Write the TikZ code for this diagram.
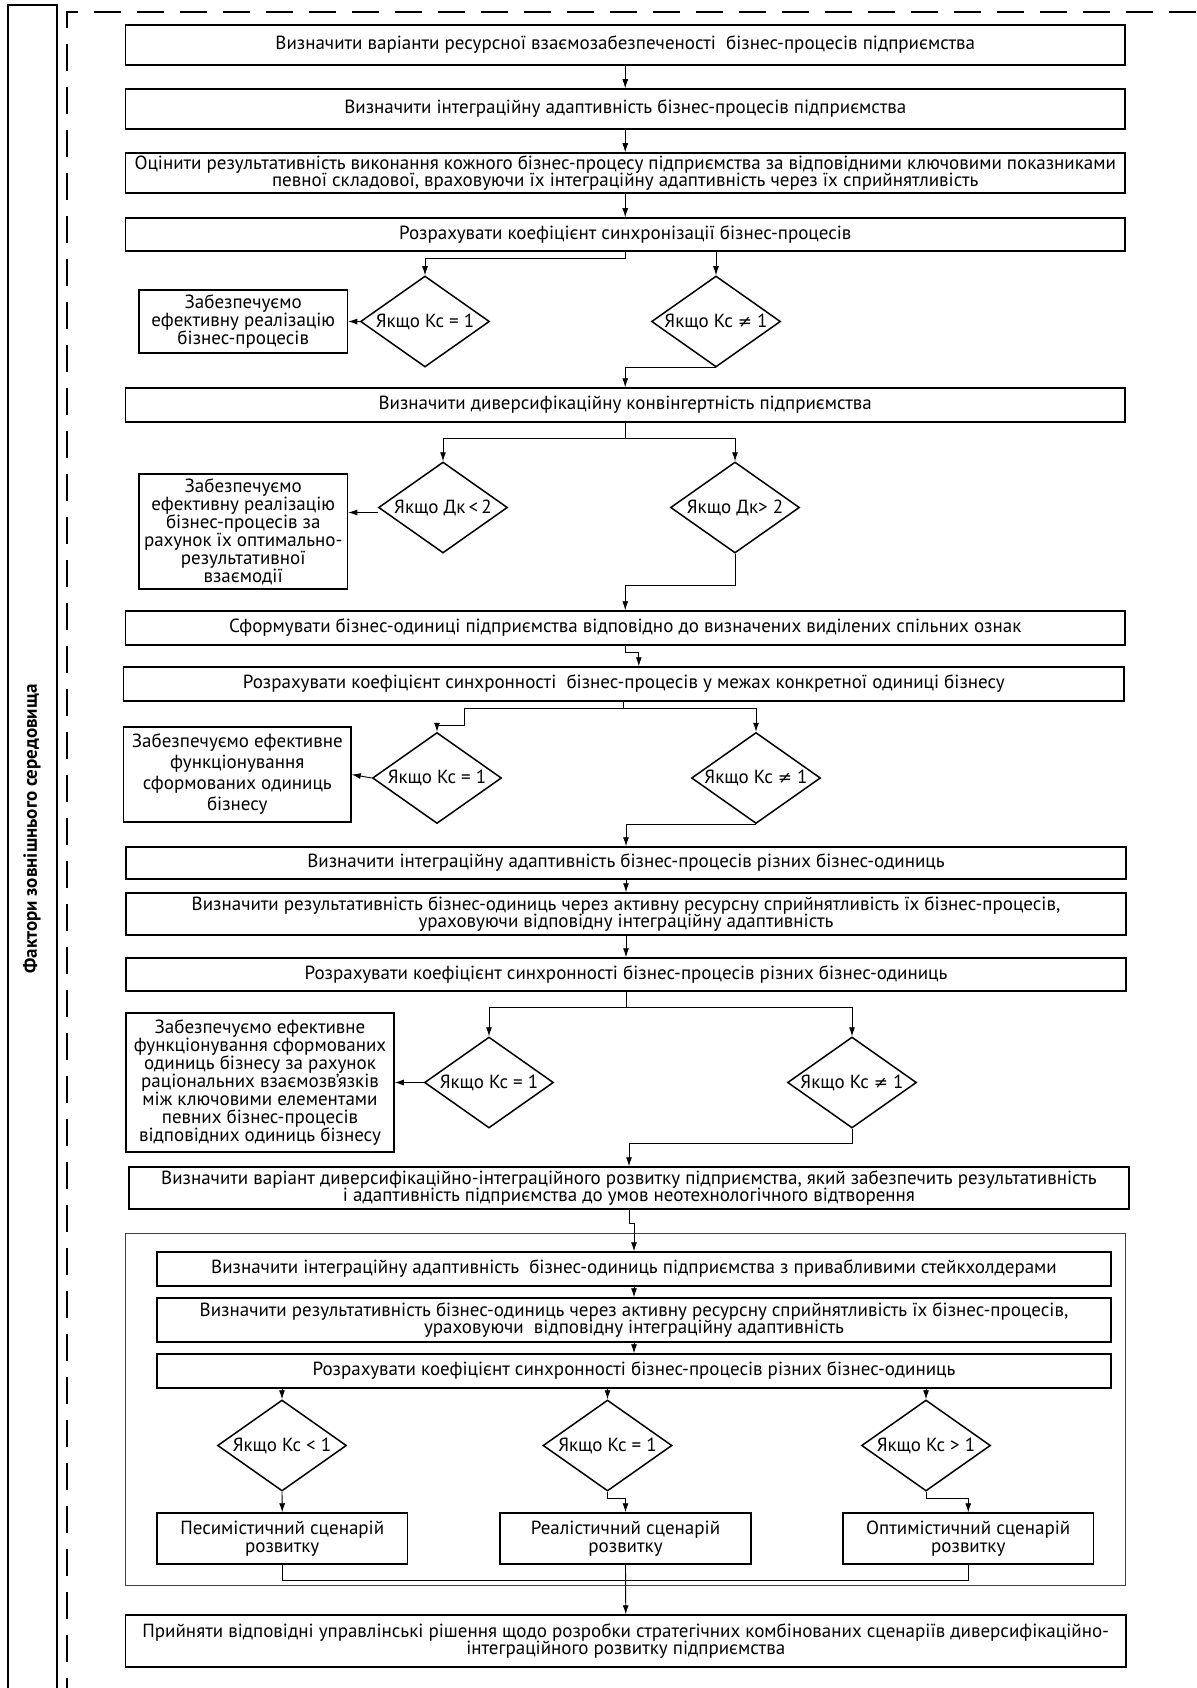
\documentclass[tikz,border=0pt]{standalone}
\usepackage{fontspec}
\setmainfont{PT Sans}
\newfontfamily\symfont{DejaVu Sans}
\usetikzlibrary{shapes.geometric,arrows.meta}
\newcommand\nq{{\symfont\fontsize{17}{17}\selectfont ≠}}
\tikzset{
  stepbox/.style={draw, line width=1.5pt, align=center, inner sep=1pt, font=\fontsize{19}{17.5}\selectfont},
  notebox/.style={stepbox, font=\fontsize{19}{18}\selectfont},
  choice/.style={draw, diamond, line width=1.5pt, inner sep=0pt, minimum width=129pt, minimum height=91pt, font=\fontsize{19}{17}\selectfont},
  link/.style={line width=0.9pt, -{Latex[length=9pt,width=6pt]}},
  dashline/.style={line width=1.8pt, dash pattern=on 27pt off 16pt},
}
\newcommand\cond[1]{\makebox[0pt]{#1}}
\begin{document}
\begin{tikzpicture}[x=1pt,y=-1pt]
        \useasboundingbox (0,0) rectangle (1196,1688);
        %% outer frame and side label
        \draw[line width=1.2pt] (8,1700) -- (8,5) -- (57,5) -- (57,1700);
        \node[rotate=90, font=\fontsize{19}{19}\selectfont\bfseries] (factors) at (32,829) {Фактори зовнішнього середовища};
        \draw[dashline] (1196,12) -- (67,12) -- (67,1700);
        %% first block
        \node[stepbox, minimum width=999.5pt, minimum height=40pt] (s1) at (625.25,45) {Визначити варіанти ресурсної взаємозабезпеченості \ бізнес-процесів підприємства};
        \node[stepbox, minimum width=999.5pt, minimum height=40pt] (s2) at (625.25,109) {Визначити інтеграційну адаптивність бізнес-процесів підприємства};
        \node[stepbox, minimum width=999.5pt, minimum height=40pt] (s3) at (625.25,173) {Оцінити результативність виконання кожного бізнес-процесу підприємства за відповідними ключовими показниками\\певної складової, враховуючи їх інтеграційну адаптивність через їх сприйнятливість};
        \node[stepbox, minimum width=999.5pt, minimum height=33pt] (s4) at (625.25,234.5) {Розрахувати коефіцієнт синхронізації бізнес-процесів};
        \foreach \a/\b in {s1/s2,s2/s3,s3/s4} \draw[link] (\a) -- (\b);
        \node[choice] (d1l) at (425,321.5) {\cond{Якщо Кс = 1}};
        \node[choice] (d1r) at (716,321.5) {\cond{Якщо Кс \nq\ 1}};
        \node[notebox, minimum width=208.5pt, minimum height=63pt] (e1) at (243.25,321.5) {Забезпечуємо\\ефективну реалізацію\\бізнес-процесів};
        \draw[link] (s4.south) -- ++(0,7) -| (d1l.north);
        \draw[link] (s4.south -| d1r) -- (d1r.north);
        \draw[link] (d1l.west) -- (e1.east);
        %% convergence
        \node[stepbox, minimum width=999.5pt, minimum height=34pt] (s5) at (625.25,405) {Визначити диверсифікаційну конвінгертність підприємства};
        \draw[link] (d1r.south) -| (s5.north);
        \node[choice] (d2l) at (443,507.5) {\cond{Якщо Дк\,<\,2}};
        \node[choice] (d2r) at (735,507.5) {\cond{Якщо Дк> 2}};
        \node[notebox, minimum width=208.5pt, minimum height=115pt] (e2) at (243.25,531.5) {Забезпечуємо\\ефективну реалізацію\\бізнес-процесів за\\рахунок їх оптимально-\\результативної\\взаємодії};
        \draw[link] (s5.south) -- ++(0,16) -| (d2l.north);
        \draw[link] (s5.south) -- ++(0,16) -| (d2r.north);
        \draw[link] ([yshift=-5pt]d2l.west) -- ([yshift=-5pt]d2l.west -| e2.east);
        %% business units
        \node[stepbox, minimum width=999.5pt, minimum height=34pt] (s6) at (625.25,628) {Сформувати бізнес-одиниці підприємства відповідно до визначених виділених спільних ознак};
        \draw[link] (d2r.south) -- ++(0,32) -| (s6.north);
        \node[stepbox, minimum width=1000.4pt, minimum height=34pt] (s7) at (623.8,684) {Розрахувати коефіцієнт синхронності \ бізнес-процесів у межах конкретної одиниці бізнесу};
        \draw[link] (s6.south) -- ++(0,7) -| ([xshift=15pt]s7.north);
        \node[choice] (d3l) at (437,778) {\cond{Якщо Кс = 1}};
        \node[choice] (d3r) at (756,778) {\cond{Якщо Кс \nq\ 1}};
        \node[stepbox, minimum width=227.4pt, minimum height=95pt, font=\fontsize{19}{21}\selectfont] (e3) at (237.3,774.5) {Забезпечуємо ефективне\\функціонування\\сформованих одиниць\\бізнесу};
        \draw[link] (s7.south) -- ++(0,7) -| ++(-159,17) -| (d3l.north);
        \draw[link] (s7.south) -- ++(0,7) -| (d3r.north);
        \draw[link] (d3l.west) -- (e3.east);
        %% units of the whole enterprise
        \node[stepbox, minimum width=1000pt, minimum height=32pt] (s8) at (626,863) {Визначити інтеграційну адаптивність бізнес-процесів різних бізнес-одиниць};
        \draw[link] (d3r.south) -| (s8.north);
        \node[stepbox, minimum width=1000pt, minimum height=42pt] (s9) at (626,914) {Визначити результативність бізнес-одиниць через активну ресурсну сприйнятливість їх бізнес-процесів,\\ураховуючи відповідну інтеграційну адаптивність};
        \node[stepbox, minimum width=1000pt, minimum height=33pt] (s10) at (626,974.5) {Розрахувати коефіцієнт синхронності бізнес-процесів різних бізнес-одиниць};
        \foreach \a/\b in {s8/s9,s9/s10} \draw[link] (\a) -- (\b);
        \node[choice] (d4l) at (489,1082.5) {\cond{Якщо Кс = 1}};
        \node[choice] (d4r) at (852,1082.5) {\cond{Якщо Кс \nq\ 1}};
        \node[notebox, minimum width=268pt, minimum height=139pt] (e4) at (260,1082.5) {Забезпечуємо ефективне\\функціонування сформованих\\одиниць бізнесу за рахунок\\раціональних взаємозв’язків\\між ключовими елементами\\певних бізнес-процесів\\відповідних одиниць бізнесу};
        \draw[link] (s10.south) -- ++(0,16) -| (d4l.north);
        \draw[link] (s10.south) -- ++(0,16) -| (d4r.north);
        \draw[link] (d4l.west) -- (e4.east);
        \node[stepbox, minimum width=1000pt, minimum height=42pt] (s11) at (629,1188) {Визначити варіант диверсифікаційно-інтеграційного розвитку підприємства, який забезпечить результативність\\і адаптивність підприємства до умов неотехнологічного відтворення};
        \draw[link] (d4r.south) -- ++(0,15) -| (s11.north);
        %% scenarios
        \draw[line width=0.8pt, black!75] (125.5,1233) rectangle (1125,1585);
        \node[stepbox, minimum width=954pt, minimum height=34pt] (a1) at (634,1269) {Визначити інтеграційну адаптивність \ бізнес-одиниць підприємства з привабливими стейкхолдерами};
        \node[stepbox, minimum width=954pt, minimum height=44pt] (a2) at (634,1320) {Визначити результативність бізнес-одиниць через активну ресурсну сприйнятливість їх бізнес-процесів,\\ураховуючи \ відповідну інтеграційну адаптивність};
        \node[stepbox, minimum width=954pt, minimum height=34pt] (a3) at (634,1371) {Розрахувати коефіцієнт синхронності бізнес-процесів різних бізнес-одиниць};
        \draw[link] (s11.south) -- ++(0,14) -| (a1.north);
        \foreach \a/\b in {a1/a2,a2/a3} \draw[link] (\a) -- (\b);
        \node[choice] (q1) at (282,1445.5) {\cond{Якщо Кс < 1}};
        \node[choice] (q2) at (607.5,1445.5) {\cond{Якщо Кс = 1}};
        \node[choice] (q3) at (926,1445.5) {\cond{Якщо Кс > 1}};
        \foreach \q in {q1,q2,q3} \draw[link] (a3.south -| \q) -- (\q.north);
        \node[stepbox, minimum width=250.5pt, minimum height=51pt, font=\fontsize{19}{18}\selectfont] (sc1) at (282.25,1538.5) {Песимістичний сценарій\\розвитку};
        \node[stepbox, minimum width=251pt, minimum height=51pt, font=\fontsize{19}{18}\selectfont] (sc2) at (625.5,1538.5) {Реалістичний сценарій\\розвитку};
        \node[stepbox, minimum width=250.5pt, minimum height=51pt, font=\fontsize{19}{18}\selectfont] (sc3) at (968.25,1538.5) {Оптимістичний сценарій\\розвитку};
        \draw[link] (q1.south) -- (sc1.north);
        \draw[link] (q2.south) -- ++(0,7) -| (sc2.north);
        \draw[link] (q3.south) -- ++(0,7) -| (sc3.north);
        \draw[line width=0.9pt] (sc1.south) -- ++(0,16) -| (sc3.south);
        %% decision
        \node[stepbox, minimum width=1000.5pt, minimum height=52pt] (fin) at (625.75,1641) {Прийняти відповідні управлінські рішення щодо розробки стратегічних комбінованих сценаріїв диверсифікаційно-\\інтеграційного розвитку підприємства};
        \draw[link] (sc2.south) -- (fin.north);
    \end{tikzpicture}
\end{document}
